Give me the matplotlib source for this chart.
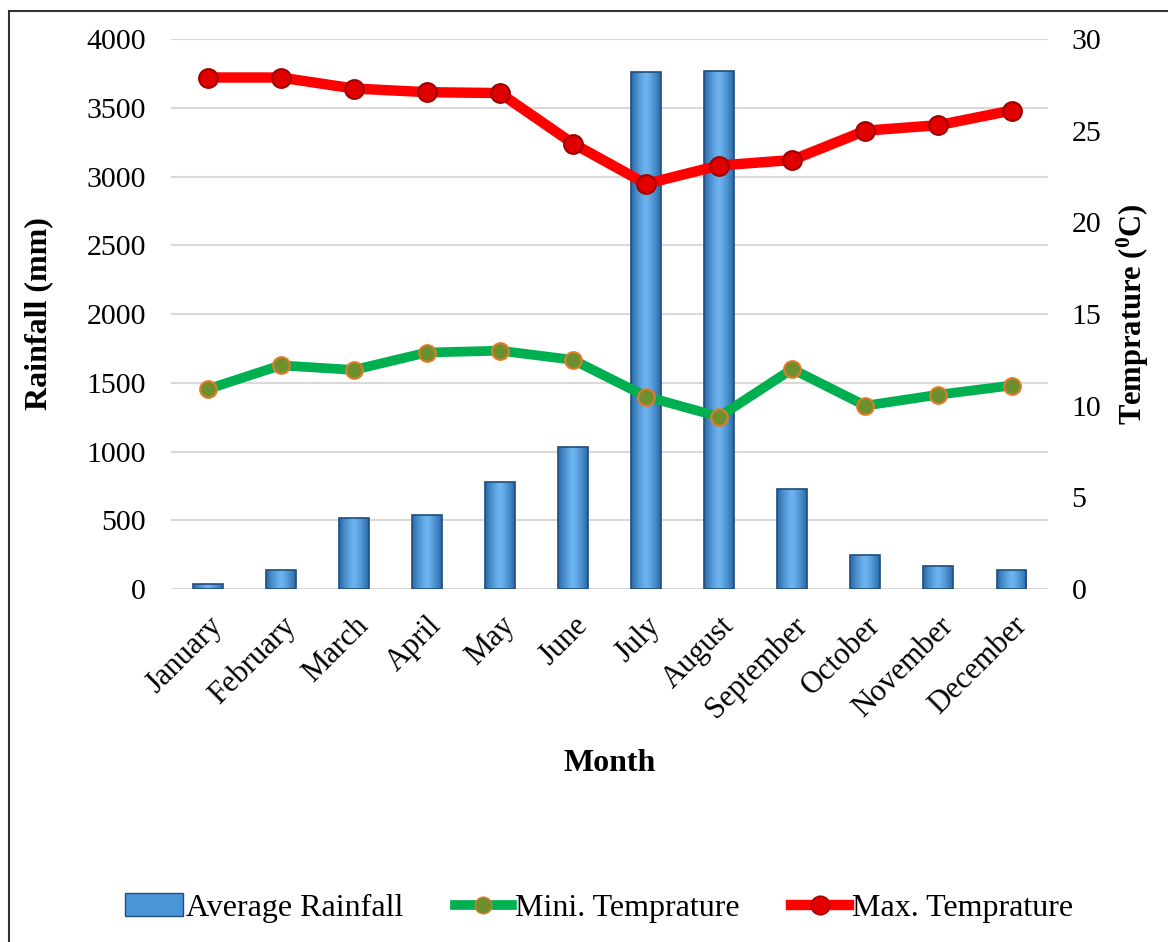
import numpy as np
import matplotlib.pyplot as plt
from matplotlib.patches import Rectangle
from matplotlib.lines import Line2D
from matplotlib.colors import LinearSegmentedColormap

plt.rcParams['font.family'] = ['Liberation Serif', 'DejaVu Serif']
plt.rcParams['mathtext.fontset'] = 'custom'
plt.rcParams['mathtext.rm'] = 'Liberation Serif'
plt.rcParams['mathtext.bf'] = 'Liberation Serif:bold'

months = ['January', 'February', 'March', 'April', 'May', 'June', 'July',
          'August', 'September', 'October', 'November', 'December']
rainfall = [35, 135, 520, 535, 775, 1030, 3760, 3765, 730, 245, 170, 140]
min_temp = [10.9, 12.2, 11.95, 12.9, 13.0, 12.5, 10.5, 9.4, 12.0, 10.0, 10.6, 11.1]
max_temp = [27.9, 27.9, 27.3, 27.1, 27.05, 24.3, 22.1, 23.1, 23.4, 25.0, 25.3, 26.1]

fig = plt.figure(figsize=(11.68, 9.42), dpi=100)
ax = fig.add_axes([0.1464, 0.3747, 0.7509, 0.5839])
ax2 = ax.twinx()

x = np.arange(len(months))
bw = 0.41

# bars with a horizontal gradient (light in the middle, dark at the edges)
cmap = LinearSegmentedColormap.from_list('b', ['#6cb4f0', '#2a68a8'])
grad = np.abs(np.linspace(-1, 1, 64))[None, :] ** 1.3
for xi, h in zip(x, rainfall):
    r = Rectangle((xi - bw / 2, 0), bw, h, facecolor='#3b82c8',
                  edgecolor='none', zorder=2)
    ax.add_patch(r)
    im = ax.imshow(grad, cmap=cmap, extent=(xi - bw / 2, xi + bw / 2, 0, h),
                   aspect='auto', zorder=2.1)
    im.set_clip_path(r)
    ax.add_patch(Rectangle((xi - bw / 2, 0), bw, h, facecolor='none',
                           edgecolor='#1f4e79', lw=1.2, zorder=2.2))

ax.set_xlim(-0.5, 11.5)
ax.set_ylim(0, 4000)
ax.set_yticks(range(0, 4001, 500))
ax.grid(axis='y', color='#d9d9d9', lw=1.5, zorder=0)
ax.set_axisbelow(True)

ax2.plot(x, min_temp, color='#00b050', lw=7, solid_capstyle='round',
         marker='o', ms=12, mfc='#6e8f2e', mec='#e07b28', mew=1.5, zorder=3)
ax2.plot(x, max_temp, color='#ff0000', lw=7.5, solid_capstyle='round',
         marker='o', ms=13.5, mfc='#e00000', mec='#a00000', mew=1.5, zorder=4)
ax2.set_ylim(0, 30)
ax2.set_yticks(range(0, 31, 5))

for a in (ax, ax2):
    for s in a.spines.values():
        s.set_visible(False)
    a.tick_params(length=0, labelsize=21.5)
ax.tick_params(axis='y', pad=18)
ax2.tick_params(axis='y', pad=17)

ax.set_xticks(x)
ax.set_xticklabels(months, rotation=45, ha='right', rotation_mode='anchor',
                   fontsize=22)
ax.tick_params(axis='x', pad=16)

ax.set_ylabel('Rainfall (mm)', fontsize=23, fontweight='bold', labelpad=24)
ax2.set_ylabel(r'Temprature ($\mathbf{^0}$C)', fontsize=22, fontweight='bold',
               labelpad=10)
ax.set_xlabel('Month', fontsize=23, fontweight='bold', labelpad=18)

handles = [Rectangle((0, 0), 1, 1, facecolor='#4a94d8', edgecolor='#1f4e79'),
           Line2D([], [], color='#00b050', lw=7, marker='o', ms=12,
                  mfc='#6e8f2e', mec='#e07b28'),
           Line2D([], [], color='#ff0000', lw=7.5, marker='o', ms=13.5,
                  mfc='#e00000', mec='#a00000')]
fig.legend(handles, ['Average Rainfall', 'Mini. Temprature', 'Max. Temprature'],
           loc='center', bbox_to_anchor=(0.513, 0.036), ncol=3, frameon=False,
           fontsize=23, handlelength=1.8, handletextpad=0.1, columnspacing=1.6)

# outer chart border
fig.add_artist(Rectangle((9 / 1168, -0.01), 1.2, 1 - 11 / 942 + 0.01,
                         transform=fig.transFigure, fill=False,
                         edgecolor='#333333', lw=1.5))

fig.savefig('out.png', dpi=100)
